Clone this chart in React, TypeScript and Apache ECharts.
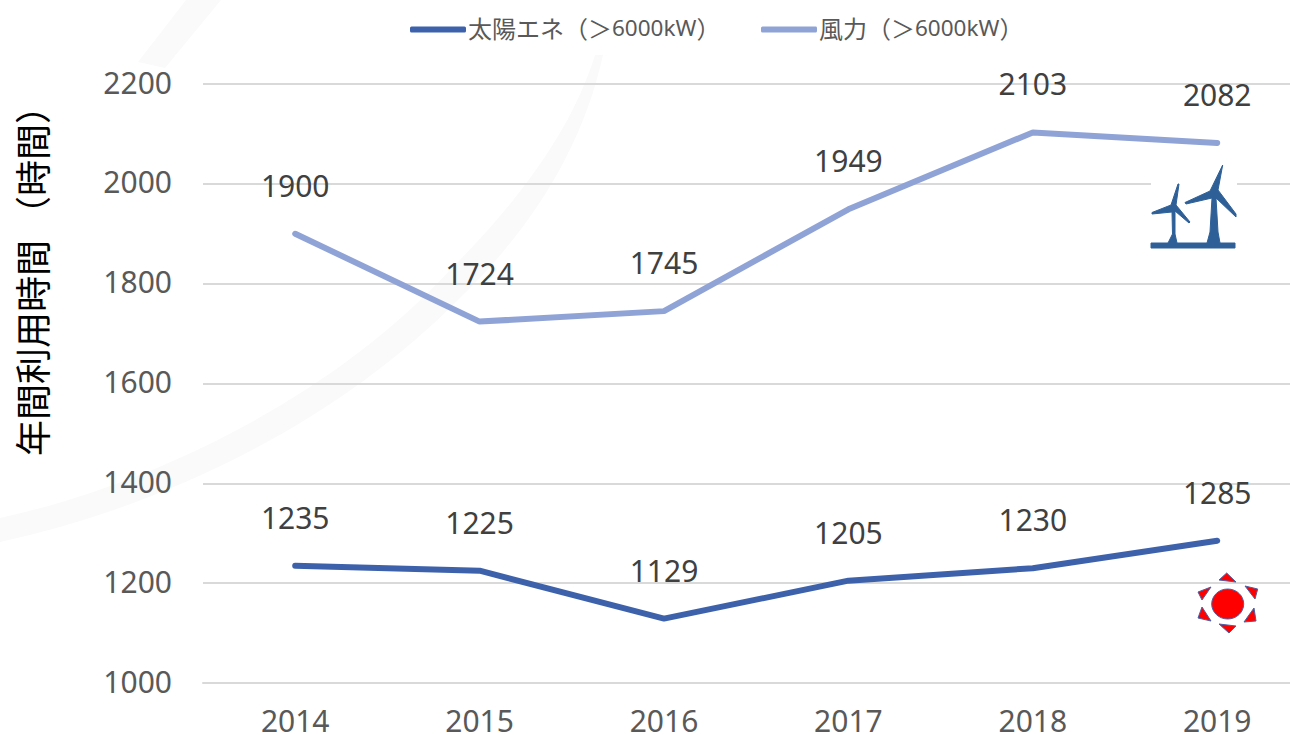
import React, { useEffect, useRef } from "react";
import * as echarts from "echarts";

const years = ["2014", "2015", "2016", "2017", "2018", "2019"];
const solarValues = [1235, 1225, 1129, 1205, 1230, 1285];
const windValues = [1900, 1724, 1745, 1949, 2103, 2082];
const solarName = "太陽エネ（＞6000kW）";
const windName = "風力（＞6000kW）";
const axisTitle = "年間利用時間 （時間）";

const SWOOSH =
  "M0,518 C150,485 330,400 450,270 C530,190 575,120 595,55 L603,55 C582,150 530,230 460,298 C340,420 170,505 0,542 Z " +
  "M138,62 L186,0 L221,0 L165,68 Z";
const TURBINES =
  "M1222.7,165 L1218,190 L1236,214 L1236,217 L1216,198 L1218,232 L1220,243 L1235,243 L1235,248 L1151,248 L1151,243 L1168,243 L1172.5,234 L1172,212 L1152,214 L1152,212.5 L1171,205 L1178,184 L1179,184 L1176,205 L1190,222 L1189,223 L1175,211 L1175,234 L1177,243 L1207,243 L1210,232 L1212,198 L1186,204 L1185,202.5 L1210,191 Z";

echarts.graphic.registerShape("swoosh", echarts.graphic.extendPath(SWOOSH, {}));
echarts.graphic.registerShape("turbines", echarts.graphic.extendPath(TURBINES, {}));

const sunTriangles = [
  [[1226.7, 573], [1219, 580], [1236, 582]],
  [[1245, 586], [1257.7, 589], [1255, 599]],
  [[1254, 608], [1256, 621], [1244, 622]],
  [[1219, 624], [1236, 626], [1229, 633]],
  [[1202, 607], [1211, 621], [1198, 618]],
  [[1198, 592], [1211, 587], [1202, 600]],
];

const legendRich = {
  a: { fontFamily: "Noto Sans CJK JP", fontSize: 24, color: "#595959", padding: [0, 0, 5, 0] },
  b: { fontFamily: "Noto Sans", fontSize: 22.5, color: "#595959", padding: [0, 0, 5, 0] },
};
const legendFormatter = (name: string) => {
  const m = name.match(/^(.*＞)(6000kW)(）)$/);
  return m ? `{a|${m[1]}}{b|${m[2]}}{a|${m[3]}}` : name;
};
const legendBase = {
  top: 10,
  icon: "roundRect",
  itemWidth: 56,
  itemHeight: 6,
  itemGap: 0,
  formatter: legendFormatter,
  textStyle: { rich: legendRich, padding: [0, 0, 0, -3] },
};

export default function App() {
  const ref = useRef<HTMLDivElement>(null);
  useEffect(() => {
    if (!ref.current) return;
    const chart = echarts.init(ref.current, undefined, { renderer: "svg" });
    const label = {
      show: true,
      position: "top",
      distance: 33,
      fontFamily: "Noto Sans",
      fontSize: 30,
      color: "#404040",
    };
    chart.setOption({
      animation: false,
      backgroundColor: "#ffffff",
      legend: [
        { ...legendBase, left: 405, data: [solarName] },
        { ...legendBase, left: 756, data: [windName] },
      ],
      grid: { left: 203, right: 10.6, top: 84, bottom: 52 },
      xAxis: {
        type: "category",
        data: years,
        axisTick: { show: false },
        axisLine: { lineStyle: { color: "#d9d9d9", width: 2 } },
        axisLabel: {
          margin: 26,
          lineHeight: 22,
          fontFamily: "Noto Sans",
          fontSize: 30,
          color: "#595959",
        },
      },
      yAxis: {
        type: "value",
        min: 1000,
        max: 2200,
        interval: 200,
        axisLine: { show: false },
        axisTick: { show: false },
        splitLine: { lineStyle: { color: "#d9d9d9", width: 2 } },
        axisLabel: {
          margin: 31,
          formatter: (v: number) => String(v),
          verticalAlign: "bottom",
          lineHeight: 4,
          fontFamily: "Noto Sans",
          fontSize: 30,
          color: "#595959",
        },
      },
      series: [
        {
          name: solarName,
          type: "line",
          data: solarValues,
          symbol: "circle",
          symbolSize: 1,
          lineStyle: { color: "#3d62ab", width: 6, cap: "round" },
          itemStyle: { color: "#3d62ab" },
          label,
        },
        {
          name: windName,
          type: "line",
          data: windValues,
          symbol: "circle",
          symbolSize: 1,
          lineStyle: { color: "#8fa3d6", width: 6, cap: "round" },
          itemStyle: { color: "#8fa3d6" },
          label,
        },
      ],
      graphic: [
        { type: "swoosh", x: 0, y: 0, z: -10, silent: true, style: { fill: "#fafafa" } },
        {
          type: "text",
          x: 31,
          y: 272,
          rotation: Math.PI / 2,
          z: 10,
          style: {
            text: axisTitle,
            font: '36px "Noto Sans CJK JP"',
            fill: "#000000",
            textAlign: "center",
            textVerticalAlign: "middle",
          },
        },
        { type: "rect", z: 50, shape: { x: 1151, y: 163, width: 86, height: 85 }, style: { fill: "#ffffff" } },
        { type: "turbines", x: 0, y: 0, z: 51, style: { fill: "#2e6097", stroke: "#2e6097", lineWidth: 1 } },
        ...sunTriangles.map((points) => ({
          type: "polygon",
          z: 51,
          shape: { points },
          style: { fill: "#ff0000", stroke: "#4a60a8", lineWidth: 1 },
        })),
        {
          type: "ellipse",
          z: 51,
          shape: { cx: 1227.7, cy: 604, rx: 16, ry: 15 },
          style: { fill: "#ff0000", stroke: "#4a60a8", lineWidth: 1 },
        },
      ],
    });
    return () => chart.dispose();
  }, []);
  return (
    <div style={{ position: "absolute", left: 0, top: 0, width: 1290, height: 735, overflow: "hidden" }}>
      <div ref={ref} style={{ width: 1320, height: 735 }} />
    </div>
  );
}
